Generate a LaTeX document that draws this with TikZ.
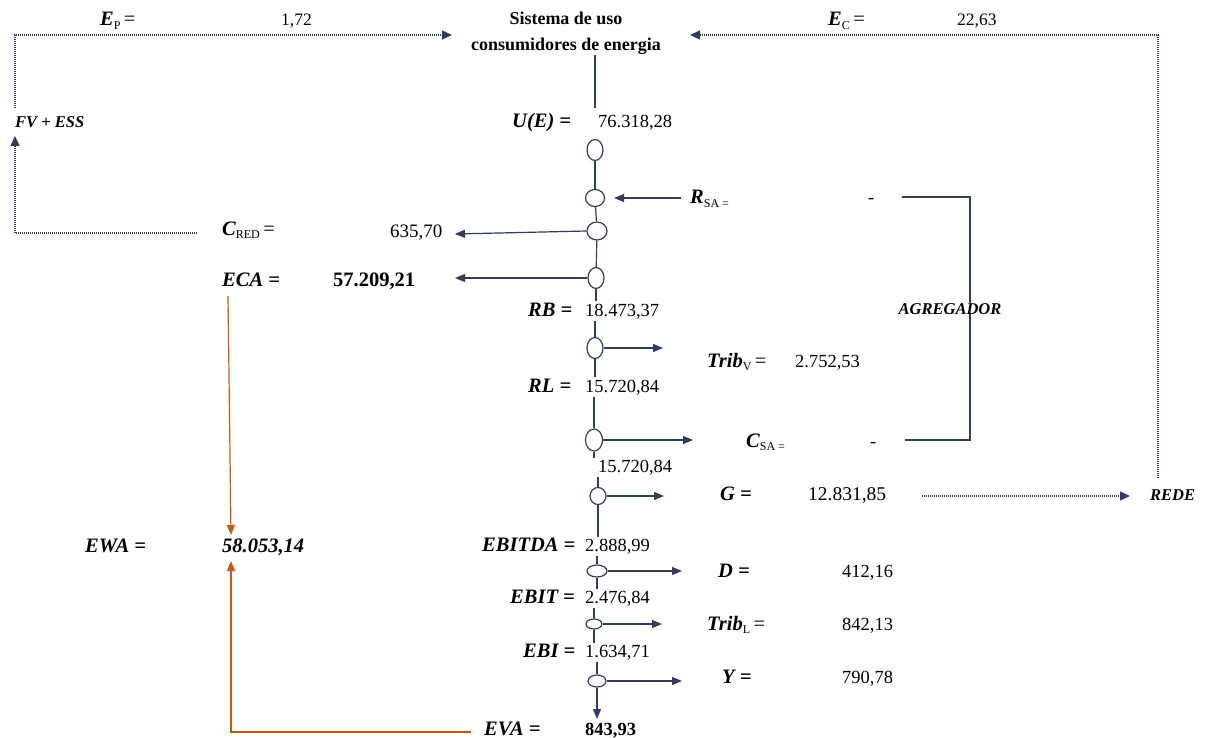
\documentclass[tikz,border=0pt]{standalone}
\usepackage{fontspec}
\setmainfont{Liberation Serif}
\usetikzlibrary{arrows.meta,shapes.geometric}
\definecolor{navy}{RGB}{47,62,95}
\definecolor{orng}{RGB}{197,90,17}
\newcommand\lowtext[1]{\raisebox{-3.5pt}{\fontsize{12}{12}\selectfont\normalfont #1}}
\tikzset{
  lbl/.style={inner sep=0pt, anchor=base west, font=\fontsize{20.5}{22}\selectfont\bfseries\itshape},
  slbl/.style={inner sep=0pt, anchor=base west, font=\fontsize{16.5}{18}\selectfont\bfseries\itshape},
  val/.style={inner sep=0pt, anchor=base west, font=\fontsize{18.5}{20}\selectfont},
  bval/.style={inner sep=0pt, anchor=base west, font=\fontsize{18.5}{20}\selectfont\bfseries},
  ell/.style={ellipse, draw=navy, line width=1.2pt, inner sep=0pt, fill=white},
  ln/.style={draw=navy, line width=1.2pt},
  arr/.style={ln, -{Triangle[length=10pt,width=8pt]}},
  dotarr/.style={draw=navy, line width=1.3pt, dash pattern=on 1pt off 1pt, -{Triangle[length=10pt,width=9pt]}},
  oarr/.style={draw=orng, line width=1.2pt, -{Triangle[length=10pt,width=8pt]}},
}
\begin{document}
\begin{tikzpicture}[x=1pt,y=-1pt]
\useasboundingbox (0,0) rectangle (1207,738);
\fill[white] (0,0) rectangle (1207,738);

% top row
\node[lbl] (ep) at (100,26) {E\lowtext{P}{\normalfont\,=}};
\node[val, font=\fontsize{17.5}{20}\selectfont] (epv) at (281,26) {1,72};
\node[inner sep=0pt, anchor=north, align=center, font=\fontsize{18}{26}\selectfont\bfseries] (sys) at (566,12) {Sistema de uso\\consumidores de energia};
\node[lbl] (ec) at (828,26) {E\lowtext{C}{\normalfont\,=}};
\node[val, font=\fontsize{17.5}{20}\selectfont] (ecv) at (957,26) {22,63};

% left loop FV + ESS
\node[slbl] (fv) at (15,128) {FV + ESS};
\coordinate (fvtop) at (15,108);
\coordinate (sysinl) at (452,35);
\draw[dotarr] (fvtop) |- (sysinl);
\coordinate (credl) at (197,233);
\coordinate (fvbot) at (15,136);
\draw[dotarr] (credl) -| (fvbot);

% right loop REDE
\node[slbl] (rede) at (1150,500) {REDE};
\coordinate (redetop) at (1158,478);
\coordinate (sysinr) at (690,35);
\draw[dotarr] (redetop) |- (sysinr);

% spine
\coordinate (s0) at (595,108);
\draw[ln] (sys.south -| s0) -- (s0);
\node[lbl] (ue) at (512,128) {U(E) =};
\node[val] (uev) at (598,128) {76.318,28};

\node[ell, minimum width=16pt, minimum height=21pt] (e1) at (595,150) {};
\node[ell, minimum width=19pt, minimum height=17pt] (e2) at (595,198) {};
\node[ell, minimum width=20pt, minimum height=18pt] (e3) at (597,231) {};
\node[ell, minimum width=16pt, minimum height=21pt] (e4) at (596,278) {};
\draw[ln] (e1) -- (e2);
\draw[ln] (e2) -- (e3);
\draw[ln] (e3) -- (e4);

% R_SA
\node[lbl] (rsa) at (690,204) {R\lowtext{SA =}};
\node[val] (rsav) at (868,204) {-};
\coordinate (rsal) at (681,198);
\draw[arr, shorten >=9pt] (rsal) -- (e2.east);

% agregador
\node[slbl, anchor=base] (agr) at (950,314) {AGREGADOR};
\coordinate (ag1) at (902,197);
\coordinate (ag2) at (970,197);
\coordinate (ag3) at (970,440);
\coordinate (ag4) at (905,440);
\draw[ln, line width=1.5pt] (ag1) -- (ag2) -- (ag2 |- agr.north);
\draw[ln, line width=1.5pt] (ag3 |- agr.south) -- (ag3) -- (ag4);

% C_RED
\node[lbl] (cred) at (222,235) {C\lowtext{RED}{\normalfont\,=}};
\node[val, font=\fontsize{19}{20}\selectfont] (credv) at (390,237) {635,70};
\coordinate (credtip) at (455,234);
\draw[arr] (e3.west) -- (credtip);

% ECA
\node[lbl] (eca) at (222,286) {ECA =};
\node[bval, font=\fontsize{20.5}{22}\selectfont\bfseries] (ecav) at (333,286) {57.209,21};
\coordinate (ecatip) at (455,278);
\draw[arr] (e4.west) -- (ecatip);

% RB
\node[lbl] (rb) at (528,316) {RB =};
\node[val] (rbv) at (585,316) {18.473,37};
\draw[ln, shorten >=2pt] (e4.south) -- (e4.south |- rbv.north);

\node[ell, minimum width=16pt, minimum height=21pt] (e5) at (595,348) {};
\draw[ln, shorten <=2pt] (e5.north |- rbv.south) -- (e5.north);
\coordinate (t5) at (663,348);
\draw[arr] (e5.east) -- (t5);
\node[lbl] (tribv) at (707,367) {Trib\lowtext{V}{\normalfont\,=}};
\node[val] (tribvv) at (795,367) {2.752,53};

% RL
\node[lbl] (rl) at (528,392) {RL =};
\node[val] (rlv) at (585,392) {15.720,84};
\draw[ln, shorten >=2pt] (e5.south) -- (e5.south |- rlv.north);

\node[ell, minimum width=17pt, minimum height=22pt] (e6) at (594,440) {};
\draw[ln, shorten <=2pt] (e6.north |- rlv.south) -- (e6.north);
\coordinate (t6) at (693,440);
\draw[arr] (e6.east) -- (t6);
\node[lbl] (csa) at (746,447) {C\lowtext{SA =}};
\node[val] (csav) at (870,447) {-};

\node[val] (lv) at (598,472) {15.720,84};
\draw[ln, shorten >=1pt] (e6.south) -- (e6.south |- lv.north);

\node[ell, minimum width=16pt, minimum height=17pt] (e7) at (598,496) {};
\draw[ln, shorten <=2pt] (e7.north |- lv.south) -- (e7.north);
\coordinate (t7) at (664,496);
\draw[arr] (e7.east) -- (t7);
\node[lbl] (g) at (720,500) {G =};
\node[val, font=\fontsize{19.5}{20}\selectfont] (gv) at (808,500) {12.831,85};
\coordinate (gout) at (922,496);
\coordinate (redein) at (1130,496);
\draw[dotarr] (gout) -- (redein);

% EBITDA
\node[lbl] (ebitda) at (482,551) {EBITDA =};
\node[val] (ebitdav) at (585,551) {2.888,99};
\draw[ln, shorten >=2pt] (e7.south) -- (e7.south |- ebitdav.north);

\node[ell, minimum width=20pt, minimum height=12pt] (e8) at (597,571) {};
\draw[ln, shorten <=2pt] (e8.north |- ebitdav.south) -- (e8.north);
\coordinate (t8) at (682,571);
\draw[arr] (e8.east) -- (t8);
\node[lbl] (d) at (718,577) {D =};
\node[val] (dv) at (842,577) {412,16};

% EBIT
\node[lbl] (ebit) at (510,603) {EBIT =};
\node[val] (ebitv) at (585,603) {2.476,84};
\draw[ln, shorten >=2pt] (e8.south) -- (e8.south |- ebitv.north);

\node[ell, minimum width=16pt, minimum height=10pt] (e9) at (594,624) {};
\draw[ln, shorten <=2pt] (e9.north |- ebitv.south) -- (e9.north);
\coordinate (t9) at (662,624);
\draw[arr] (e9.east) -- (t9);
\node[lbl] (tribl) at (707,630) {Trib\lowtext{L}{\normalfont\,=}};
\node[val] (triblv) at (842,630) {842,13};

% EBI
\node[lbl] (ebi) at (523,657) {EBI =};
\node[val] (ebiv) at (585,657) {1.634,71};
\draw[ln, shorten >=2pt] (e9.south) -- (e9.south |- ebiv.north);

\node[ell, minimum width=18pt, minimum height=12pt] (e10) at (597,681) {};
\draw[ln, shorten <=2pt] (e10.north |- ebiv.south) -- (e10.north);
\coordinate (t10) at (682,681);
\draw[arr] (e10.east) -- (t10);
\node[lbl] (y) at (722,683) {Y =};
\node[val] (yv) at (842,683) {790,78};

% EVA
\node[lbl] (eva) at (484,735) {EVA =};
\node[bval] (evav) at (585,735) {843,93};
\coordinate (evatip) at (597,719);
\draw[arr] (e10.south) -- (evatip);

% EWA
\node[lbl] (ewa) at (85,552) {EWA =};
\node[lbl] (ewav) at (222,552) {58.053,14};
\coordinate (ecadown) at (228,296);
\coordinate (ewatop) at (231,535);
\draw[oarr] (ecadown) -- (ewatop);
\coordinate (evaleft) at (471,732);
\coordinate (ewabot) at (231,561);
\draw[oarr] (evaleft) -| (ewabot);
\end{tikzpicture}
\end{document}
